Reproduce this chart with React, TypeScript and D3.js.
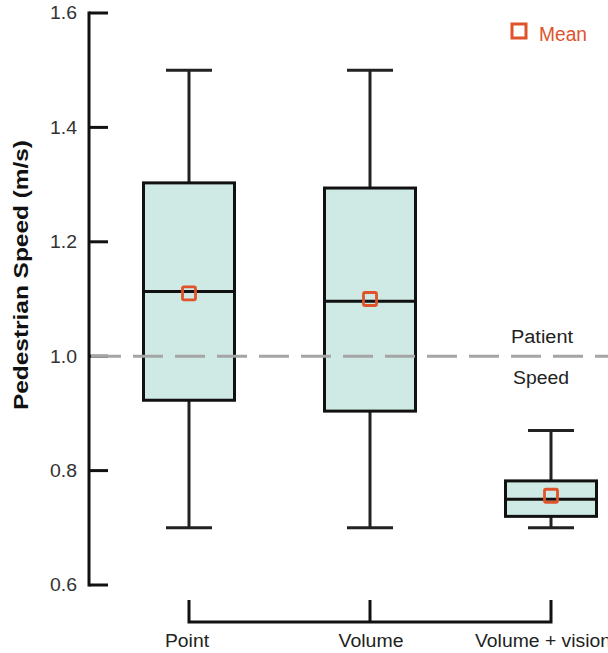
import React from "react";
import * as d3 from "d3";

const categories = ["Point", "Volume", "Volume + vision"];
const whiskerLow = [0.7, 0.7, 0.7];
const q1 = [0.923, 0.904, 0.72];
const medians = [1.113, 1.096, 0.75];
const q3 = [1.303, 1.294, 0.782];
const whiskerHigh = [1.5, 1.5, 0.87];
const means = [1.11, 1.1, 0.756];
const yTicks = [0.6, 0.8, 1.0, 1.2, 1.4, 1.6];
const patientSpeed = 1.0;

const W = 608;
const H = 653;
const FONT = "'Liberation Sans', Arial, Helvetica, sans-serif";
const ORANGE = "#e0532a";
const FILL = "#cfe9e4";

// measured text widths of the reference rendering (px)
const catLabelWidths = [44, 65, 136];
const catLabelOffsets = [-2, 1, -8];

export default function App() {
  const y = d3.scaleLinear().domain([0.6, 1.6]).range([585, 13]);
  const x = d3.scalePoint<string>().domain(categories).range([189, 551]);
  const boxW = 91;
  const capW = 46;
  const axisX = 89;
  const m = 13;

  return (
    <svg
      width={W}
      height={H}
      style={{ position: "absolute", left: 0, top: 0, background: "#fff" }}
      fontFamily={FONT}
    >
      {/* y axis */}
      <line x1={axisX} x2={axisX} y1={y(1.6) - 1.5} y2={y(0.6) + 1.5} stroke="#111" strokeWidth={3} />
      {yTicks.map((t) => (
        <g key={t}>
          <line x1={axisX} x2={108} y1={y(t)} y2={y(t)} stroke="#111" strokeWidth={3} />
          <text
            x={50}
            y={y(t)}
            dy="0.36em"
            fontSize={18}
            fill="#333"
            textLength={27}
            lengthAdjust="spacingAndGlyphs"
          >
            {d3.format(".1f")(t)}
          </text>
        </g>
      ))}
      <text
        transform={`translate(28, 275) rotate(-90)`}
        x={-135}
        fontSize={21}
        fontWeight="bold"
        fill="#111"
        textLength={270}
        lengthAdjust="spacingAndGlyphs"
      >
        Pedestrian Speed (m/s)
      </text>

      {/* boxes */}
      {categories.map((c, i) => {
        const cx = x(c)!;
        return (
          <g key={c}>
            <line x1={cx} x2={cx} y1={y(whiskerHigh[i])} y2={y(q3[i])} stroke="#222" strokeWidth={3} />
            <line x1={cx} x2={cx} y1={y(q1[i])} y2={y(whiskerLow[i])} stroke="#222" strokeWidth={3} />
            <line x1={cx - capW / 2} x2={cx + capW / 2} y1={y(whiskerHigh[i])} y2={y(whiskerHigh[i])} stroke="#222" strokeWidth={3} />
            <line x1={cx - capW / 2} x2={cx + capW / 2} y1={y(whiskerLow[i])} y2={y(whiskerLow[i])} stroke="#222" strokeWidth={3} />
            <rect
              x={cx - boxW / 2}
              y={y(q3[i])}
              width={boxW}
              height={y(q1[i]) - y(q3[i])}
              fill={FILL}
              stroke="#111"
              strokeWidth={3}
            />
          </g>
        );
      })}

      {/* patient speed line */}
      <line
        x1={axisX + 2}
        x2={W}
        y1={y(patientSpeed)}
        y2={y(patientSpeed)}
        stroke="#a5a5a5"
        strokeWidth={3}
        strokeDasharray="30 12"
      />

      {categories.map((c, i) => {
        const cx = x(c)!;
        return (
          <g key={c + "m"}>
            <line x1={cx - boxW / 2} x2={cx + boxW / 2} y1={y(medians[i])} y2={y(medians[i])} stroke="#111" strokeWidth={3} />
            <rect x={cx - m / 2} y={y(means[i]) - m / 2} width={m} height={m} fill="none" stroke={ORANGE} strokeWidth={2.8} rx={1.5} />
          </g>
        );
      })}

      <text x={511} y={343} fontSize={18} fill="#222" textLength={62} lengthAdjust="spacingAndGlyphs">Patient</text>
      <text x={513} y={384} fontSize={18} fill="#222" textLength={56} lengthAdjust="spacingAndGlyphs">Speed</text>

      {/* x bracket */}
      <path
        d={`M${x(categories[0])},600 V622 H${x(categories[2])} V600 M${x(categories[1])},600 V622`}
        fill="none"
        stroke="#111"
        strokeWidth={3}
      />
      {categories.map((c, i) => (
        <text
          key={c + "l"}
          x={x(c)! + catLabelOffsets[i] - catLabelWidths[i] / 2}
          y={647}
          fontSize={18}
          fill="#222"
          textLength={catLabelWidths[i]}
          lengthAdjust="spacingAndGlyphs"
        >
          {c}
        </text>
      ))}

      {/* legend */}
      <rect x={512} y={24} width={14} height={14} fill="none" stroke={ORANGE} strokeWidth={3} />
      <text x={539} y={41} fontSize={20} fill={ORANGE} textLength={48} lengthAdjust="spacingAndGlyphs">Mean</text>
    </svg>
  );
}
